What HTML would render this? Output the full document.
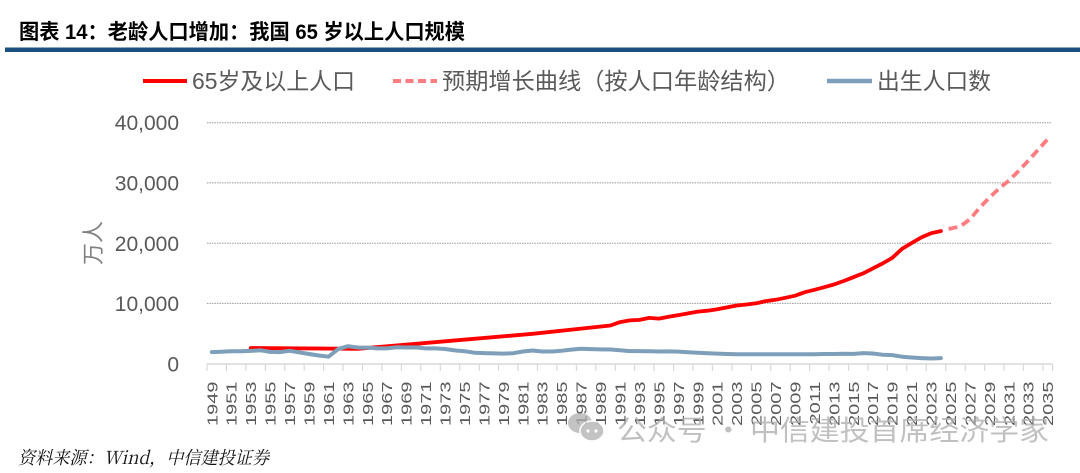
<!DOCTYPE html>
<html><head><meta charset="utf-8"><style>
html,body{margin:0;padding:0;background:#fff;}
svg{display:block;}
</style></head><body>
<svg width="1080" height="473" viewBox="0 0 1080 473" xmlns="http://www.w3.org/2000/svg">
<rect width="1080" height="473" fill="#fff"/>
<!-- title -->
<text x="19" y="39" font-family="'Liberation Sans','Noto Sans CJK SC',sans-serif" font-weight="bold" font-size="21" fill="#000" textLength="446" lengthAdjust="spacingAndGlyphs">图表 14：老龄人口增加：我国 65 岁以上人口规模</text>
<rect x="5" y="47.5" width="1075" height="4.5" fill="#1b4f7f"/>

<!-- legend -->
<g font-family="'Liberation Sans','Noto Sans CJK SC',sans-serif" font-size="23" fill="#595959">
<line x1="143" y1="81" x2="187" y2="81" stroke="#ff0000" stroke-width="4"/>
<text x="192" y="89" textLength="163" lengthAdjust="spacingAndGlyphs">65岁及以上人口</text>
<line x1="393" y1="81" x2="437" y2="81" stroke="#ff7c80" stroke-width="4" stroke-dasharray="8 4.5"/>
<text x="442" y="89" textLength="348" lengthAdjust="spacingAndGlyphs">预期增长曲线（按人口年龄结构）</text>
<line x1="827" y1="81" x2="872" y2="81" stroke="#7e9fb9" stroke-width="4.5"/>
<text x="877" y="89" textLength="114" lengthAdjust="spacingAndGlyphs">出生人口数</text>
</g>

<!-- gridlines -->
<g stroke="#9a9a9a" stroke-width="1" stroke-dasharray="1.5 1">
<line x1="207" y1="122.7" x2="1052" y2="122.7"/>
<line x1="207" y1="182.9" x2="1052" y2="182.9"/>
<line x1="207" y1="243.3" x2="1052" y2="243.3"/>
<line x1="207" y1="303.4" x2="1052" y2="303.4"/>
</g>
<line x1="207" y1="364" x2="1052.6" y2="364" stroke="#d9d9d9" stroke-width="1.5"/>
<path d="M207 364v7M226.4 364v7M245.9 364v7M265.3 364v7M284.8 364v7M304.2 364v7M323.6 364v7M343.1 364v7M362.5 364v7M382 364v7M401.4 364v7M420.8 364v7M440.3 364v7M459.7 364v7M479.2 364v7M498.6 364v7M518 364v7M537.5 364v7M556.9 364v7M576.4 364v7M595.8 364v7M615.2 364v7M634.7 364v7M654.1 364v7M673.6 364v7M693 364v7M712.4 364v7M731.9 364v7M751.3 364v7M770.8 364v7M790.2 364v7M809.6 364v7M829.1 364v7M848.5 364v7M868 364v7M887.4 364v7M906.8 364v7M926.3 364v7M945.7 364v7M965.2 364v7M984.6 364v7M1004 364v7M1023.5 364v7M1042.9 364v7M1052.6 364v7" stroke="#d9d9d9" stroke-width="1.2"/>

<!-- y labels -->
<g font-family="'Liberation Sans',sans-serif" font-size="21" fill="#595959" text-anchor="end">
<text x="179" y="130.2">40,000</text>
<text x="179" y="190.4">30,000</text>
<text x="179" y="250.8">20,000</text>
<text x="179" y="310.9">10,000</text>
<text x="179" y="371.5">0</text>
</g>
<text transform="translate(101,243) rotate(-90)" text-anchor="middle" font-family="'Noto Sans CJK SC',sans-serif" font-size="22" fill="#808080">万人</text>

<!-- x labels -->
<g font-family="'Liberation Sans',sans-serif" font-size="20" fill="#595959" text-anchor="end">
<text transform="translate(217.3,381.5) rotate(-90) scale(1,0.75)">1949</text>
<text transform="translate(236.7,381.5) rotate(-90) scale(1,0.75)">1951</text>
<text transform="translate(256.1,381.5) rotate(-90) scale(1,0.75)">1953</text>
<text transform="translate(275.6,381.5) rotate(-90) scale(1,0.75)">1955</text>
<text transform="translate(295.0,381.5) rotate(-90) scale(1,0.75)">1957</text>
<text transform="translate(314.5,381.5) rotate(-90) scale(1,0.75)">1959</text>
<text transform="translate(333.9,381.5) rotate(-90) scale(1,0.75)">1961</text>
<text transform="translate(353.4,381.5) rotate(-90) scale(1,0.75)">1963</text>
<text transform="translate(372.8,381.5) rotate(-90) scale(1,0.75)">1965</text>
<text transform="translate(392.2,381.5) rotate(-90) scale(1,0.75)">1967</text>
<text transform="translate(411.7,381.5) rotate(-90) scale(1,0.75)">1969</text>
<text transform="translate(431.1,381.5) rotate(-90) scale(1,0.75)">1971</text>
<text transform="translate(450.5,381.5) rotate(-90) scale(1,0.75)">1973</text>
<text transform="translate(470.0,381.5) rotate(-90) scale(1,0.75)">1975</text>
<text transform="translate(489.4,381.5) rotate(-90) scale(1,0.75)">1977</text>
<text transform="translate(508.9,381.5) rotate(-90) scale(1,0.75)">1979</text>
<text transform="translate(528.3,381.5) rotate(-90) scale(1,0.75)">1981</text>
<text transform="translate(547.7,381.5) rotate(-90) scale(1,0.75)">1983</text>
<text transform="translate(567.2,381.5) rotate(-90) scale(1,0.75)">1985</text>
<text transform="translate(586.6,381.5) rotate(-90) scale(1,0.75)">1987</text>
<text transform="translate(606.1,381.5) rotate(-90) scale(1,0.75)">1989</text>
<text transform="translate(625.5,381.5) rotate(-90) scale(1,0.75)">1991</text>
<text transform="translate(644.9,381.5) rotate(-90) scale(1,0.75)">1993</text>
<text transform="translate(664.4,381.5) rotate(-90) scale(1,0.75)">1995</text>
<text transform="translate(683.8,381.5) rotate(-90) scale(1,0.75)">1997</text>
<text transform="translate(703.3,381.5) rotate(-90) scale(1,0.75)">1999</text>
<text transform="translate(722.7,381.5) rotate(-90) scale(1,0.75)">2001</text>
<text transform="translate(742.1,381.5) rotate(-90) scale(1,0.75)">2003</text>
<text transform="translate(761.6,381.5) rotate(-90) scale(1,0.75)">2005</text>
<text transform="translate(781.0,381.5) rotate(-90) scale(1,0.75)">2007</text>
<text transform="translate(800.5,381.5) rotate(-90) scale(1,0.75)">2009</text>
<text transform="translate(819.9,381.5) rotate(-90) scale(1,0.75)">2011</text>
<text transform="translate(839.3,381.5) rotate(-90) scale(1,0.75)">2013</text>
<text transform="translate(858.8,381.5) rotate(-90) scale(1,0.75)">2015</text>
<text transform="translate(878.2,381.5) rotate(-90) scale(1,0.75)">2017</text>
<text transform="translate(897.7,381.5) rotate(-90) scale(1,0.75)">2019</text>
<text transform="translate(917.1,381.5) rotate(-90) scale(1,0.75)">2021</text>
<text transform="translate(936.5,381.5) rotate(-90) scale(1,0.75)">2023</text>
<text transform="translate(956.0,381.5) rotate(-90) scale(1,0.75)">2025</text>
<text transform="translate(975.4,381.5) rotate(-90) scale(1,0.75)">2027</text>
<text transform="translate(994.9,381.5) rotate(-90) scale(1,0.75)">2029</text>
<text transform="translate(1014.3,381.5) rotate(-90) scale(1,0.75)">2031</text>
<text transform="translate(1033.7,381.5) rotate(-90) scale(1,0.75)">2033</text>
<text transform="translate(1053.2,381.5) rotate(-90) scale(1,0.75)">2035</text>
</g>

<!-- series: 65+ -->
<polyline fill="none" stroke="#ff0000" stroke-width="3.8" stroke-linejoin="round" stroke-linecap="round" points="250.7,348.0 357.7,348.8 532.6,333.8 610.4,325.5 620.1,322.1 629.8,320.4 639.5,319.9 649.3,317.9 659.0,318.6 668.7,316.7 678.4,315.1 688.1,313.4 697.9,311.6 707.6,310.7 717.3,309.3 727.0,307.4 736.7,305.5 746.5,304.5 756.2,303.3 765.9,301.1 775.6,299.8 785.3,297.8 795.1,295.7 804.8,292.2 814.5,289.8 824.2,287.2 833.9,284.5 843.7,281.0 853.4,277.2 863.1,273.4 872.8,268.4 882.5,263.5 892.3,257.8 902.0,248.9 911.7,243.0 921.4,237.4 931.1,233.2 940.9,231.1"/>
<!-- projection -->
<polyline fill="none" stroke="#ff7c80" stroke-width="3.8" stroke-dasharray="9 5" stroke-linejoin="round" points="948.6,229.0 960.3,226.4 970.0,219.2 979.7,207.7 989.5,197.5 999.2,188.4 1008.9,180.6 1018.6,171.0 1028.3,160.7 1038.1,149.8 1047.8,139.0"/>
<!-- births -->
<polyline fill="none" stroke="#7e9fb9" stroke-width="4" stroke-linejoin="round" stroke-linecap="round" points="211.9,352.1 221.6,351.7 231.3,351.2 241.0,351.2 250.7,350.9 260.5,350.3 270.2,351.9 279.9,352.1 289.6,350.8 299.3,352.4 309.1,354.0 318.8,355.5 328.5,356.7 338.2,349.1 348.0,346.2 357.7,347.5 367.4,347.6 377.1,348.4 386.8,348.4 396.5,347.3 406.3,347.5 416.0,347.4 425.7,348.4 435.4,348.4 445.1,349.0 454.9,350.4 464.6,351.2 474.3,352.7 484.0,353.1 493.7,353.4 503.5,353.6 513.2,353.2 522.9,351.5 532.6,350.5 542.3,351.5 552.1,351.5 561.8,350.7 571.5,349.6 581.2,348.8 590.9,349.1 600.7,349.4 610.4,349.5 620.1,350.3 629.8,351.1 639.5,351.1 649.3,351.2 659.0,351.5 668.7,351.4 678.4,351.6 688.1,352.2 697.9,352.8 707.6,353.2 717.3,353.6 727.0,354.0 736.7,354.3 746.5,354.3 756.2,354.2 765.9,354.3 775.6,354.3 785.3,354.2 795.1,354.2 804.8,354.3 814.5,354.2 824.2,354.0 833.9,354.0 843.7,353.7 853.4,353.9 863.1,353.1 872.8,353.5 882.5,354.7 892.3,355.1 902.0,356.7 911.7,357.5 921.4,358.1 931.1,358.5 940.9,358.1"/>

<!-- watermark -->
<g opacity="0.75">
<ellipse cx="580" cy="423" rx="12" ry="10" fill="#b0b0b0"/>
<ellipse cx="592" cy="431" rx="12" ry="10" fill="#b0b0b0" stroke="#fff" stroke-width="1.5"/>
<circle cx="588" cy="431" r="1.6" fill="#fff"/>
<circle cx="596" cy="431" r="1.6" fill="#fff"/>
<text x="617" y="440" font-family="'Noto Sans CJK SC',sans-serif" font-size="28" fill="#ababab" textLength="432" lengthAdjust="spacingAndGlyphs">公众号 · 中信建投首席经济学家</text>
</g>

<!-- source -->
<text x="18" y="464" font-family="'Noto Serif CJK SC','Liberation Serif',serif" font-style="italic" font-size="18" fill="#111" textLength="251" lengthAdjust="spacingAndGlyphs">资料来源：Wind，中信建投证券</text>
</svg>
</body></html>
